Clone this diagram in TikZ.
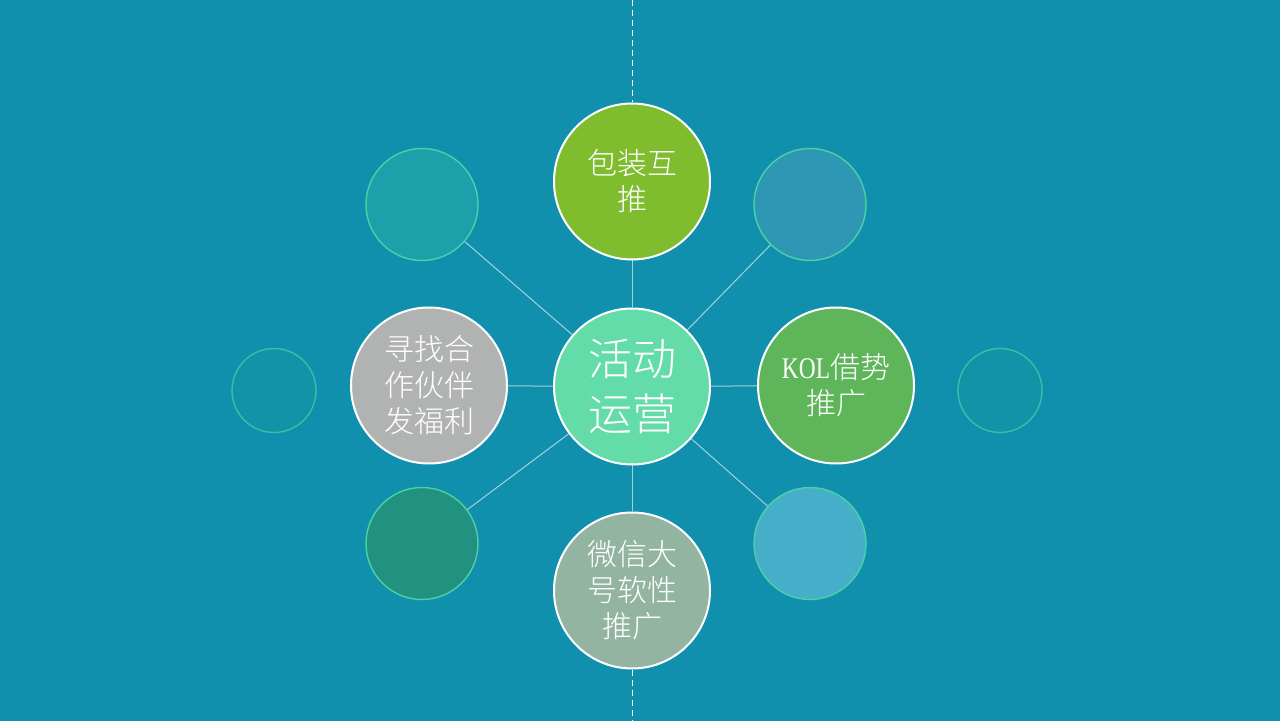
\documentclass[tikz,border=0pt]{standalone}
\usepackage{fontspec}
\usepackage{tikz}
\newfontfamily\cjk{Noto Sans CJK SC}[UprightFont={* Light}]
\newfontfamily\kolfont{Liberation Serif}[FakeStretch=0.78]
\definecolor{bgblue}{HTML}{1190AD}
\definecolor{hubmint}{HTML}{63DCAA}
\definecolor{topgreen}{HTML}{7FBD2F}
\definecolor{rightgreen}{HTML}{5FB65A}
\definecolor{leftgrey}{HTML}{B1B3B3}
\definecolor{bottomsage}{HTML}{94B4A2}
\definecolor{ghostrim}{HTML}{4DD0A6}
\definecolor{ghosttl}{HTML}{1CA0AA}
\definecolor{ghosttr}{HTML}{2E98B4}
\definecolor{ghostbl}{HTML}{20927F}
\definecolor{ghostbr}{HTML}{45AFCA}
\definecolor{ghostfar}{HTML}{1492A8}

\begin{document}
\begin{tikzpicture}[x=0.5pt,y=-0.5pt]
        \tikzstyle{bubble}=[circle,draw=white,line width=1pt,minimum size=78pt,inner sep=0pt,text=white,align=center,font=\cjk\fontsize{15}{18}\selectfont]
        \tikzstyle{ghost}=[circle,draw=ghostrim,line width=0.7pt,minimum size=56pt,inner sep=0pt]
        \tikzstyle{link}=[white,opacity=0.6,line width=0.5pt]
        \tikzstyle{guide}=[white,line width=0.5pt,dash pattern=on 3pt off 2pt]
        \fill [bgblue] (0,0) rectangle (1280,720);
        \node [ghost,fill=ghosttl] (tl) at (422, 204) {};
        \node [ghost,fill=ghosttr] (tr) at (810, 204) {};
        \node [ghost,fill=ghostbl] (bl) at (422, 543) {};
        \node [ghost,fill=ghostbr] (br) at (810, 543) {};
        \node [ghost,fill=ghostfar,minimum size=42pt,draw opacity=0.7] (farleft) at (274, 390) {};
        \node [ghost,fill=ghostfar,minimum size=42pt,draw opacity=0.7] (farright) at (1000, 390) {};
        \node [bubble,fill=hubmint,font=\cjk\fontsize{22}{28}\selectfont] (hub) at (632, 386) {活动\\运营};
        \node [bubble,fill=topgreen] (pack) at (632, 181) {包装互\\推};
        \node [bubble,fill=rightgreen] (kol) at (836, 385) {{\kolfont KOL}借势\\推广};
        \node [bubble,fill=leftgrey] (partner) at (429, 385) {寻找合\\作伙伴\\发福利};
        \node [bubble,fill=bottomsage] (wechat) at (632, 590) {微信大\\号软性\\推广};
        \coordinate (topend) at (632, 0);
        \coordinate (bottomend) at (632, 720);
        \draw [guide] (topend) -- (pack.north);
        \draw [guide] (wechat.south) -- (bottomend);
        \draw [link] (hub) -- (pack);
        \draw [link] (hub) -- (kol);
        \draw [link] (hub) -- (partner);
        \draw [link] (hub) -- (wechat);
        \draw [link] (hub) -- (tl);
        \draw [link] (hub) -- (tr);
        \draw [link] (hub) -- (bl);
        \draw [link] (hub) -- (br);
    \end{tikzpicture}
\end{document}
